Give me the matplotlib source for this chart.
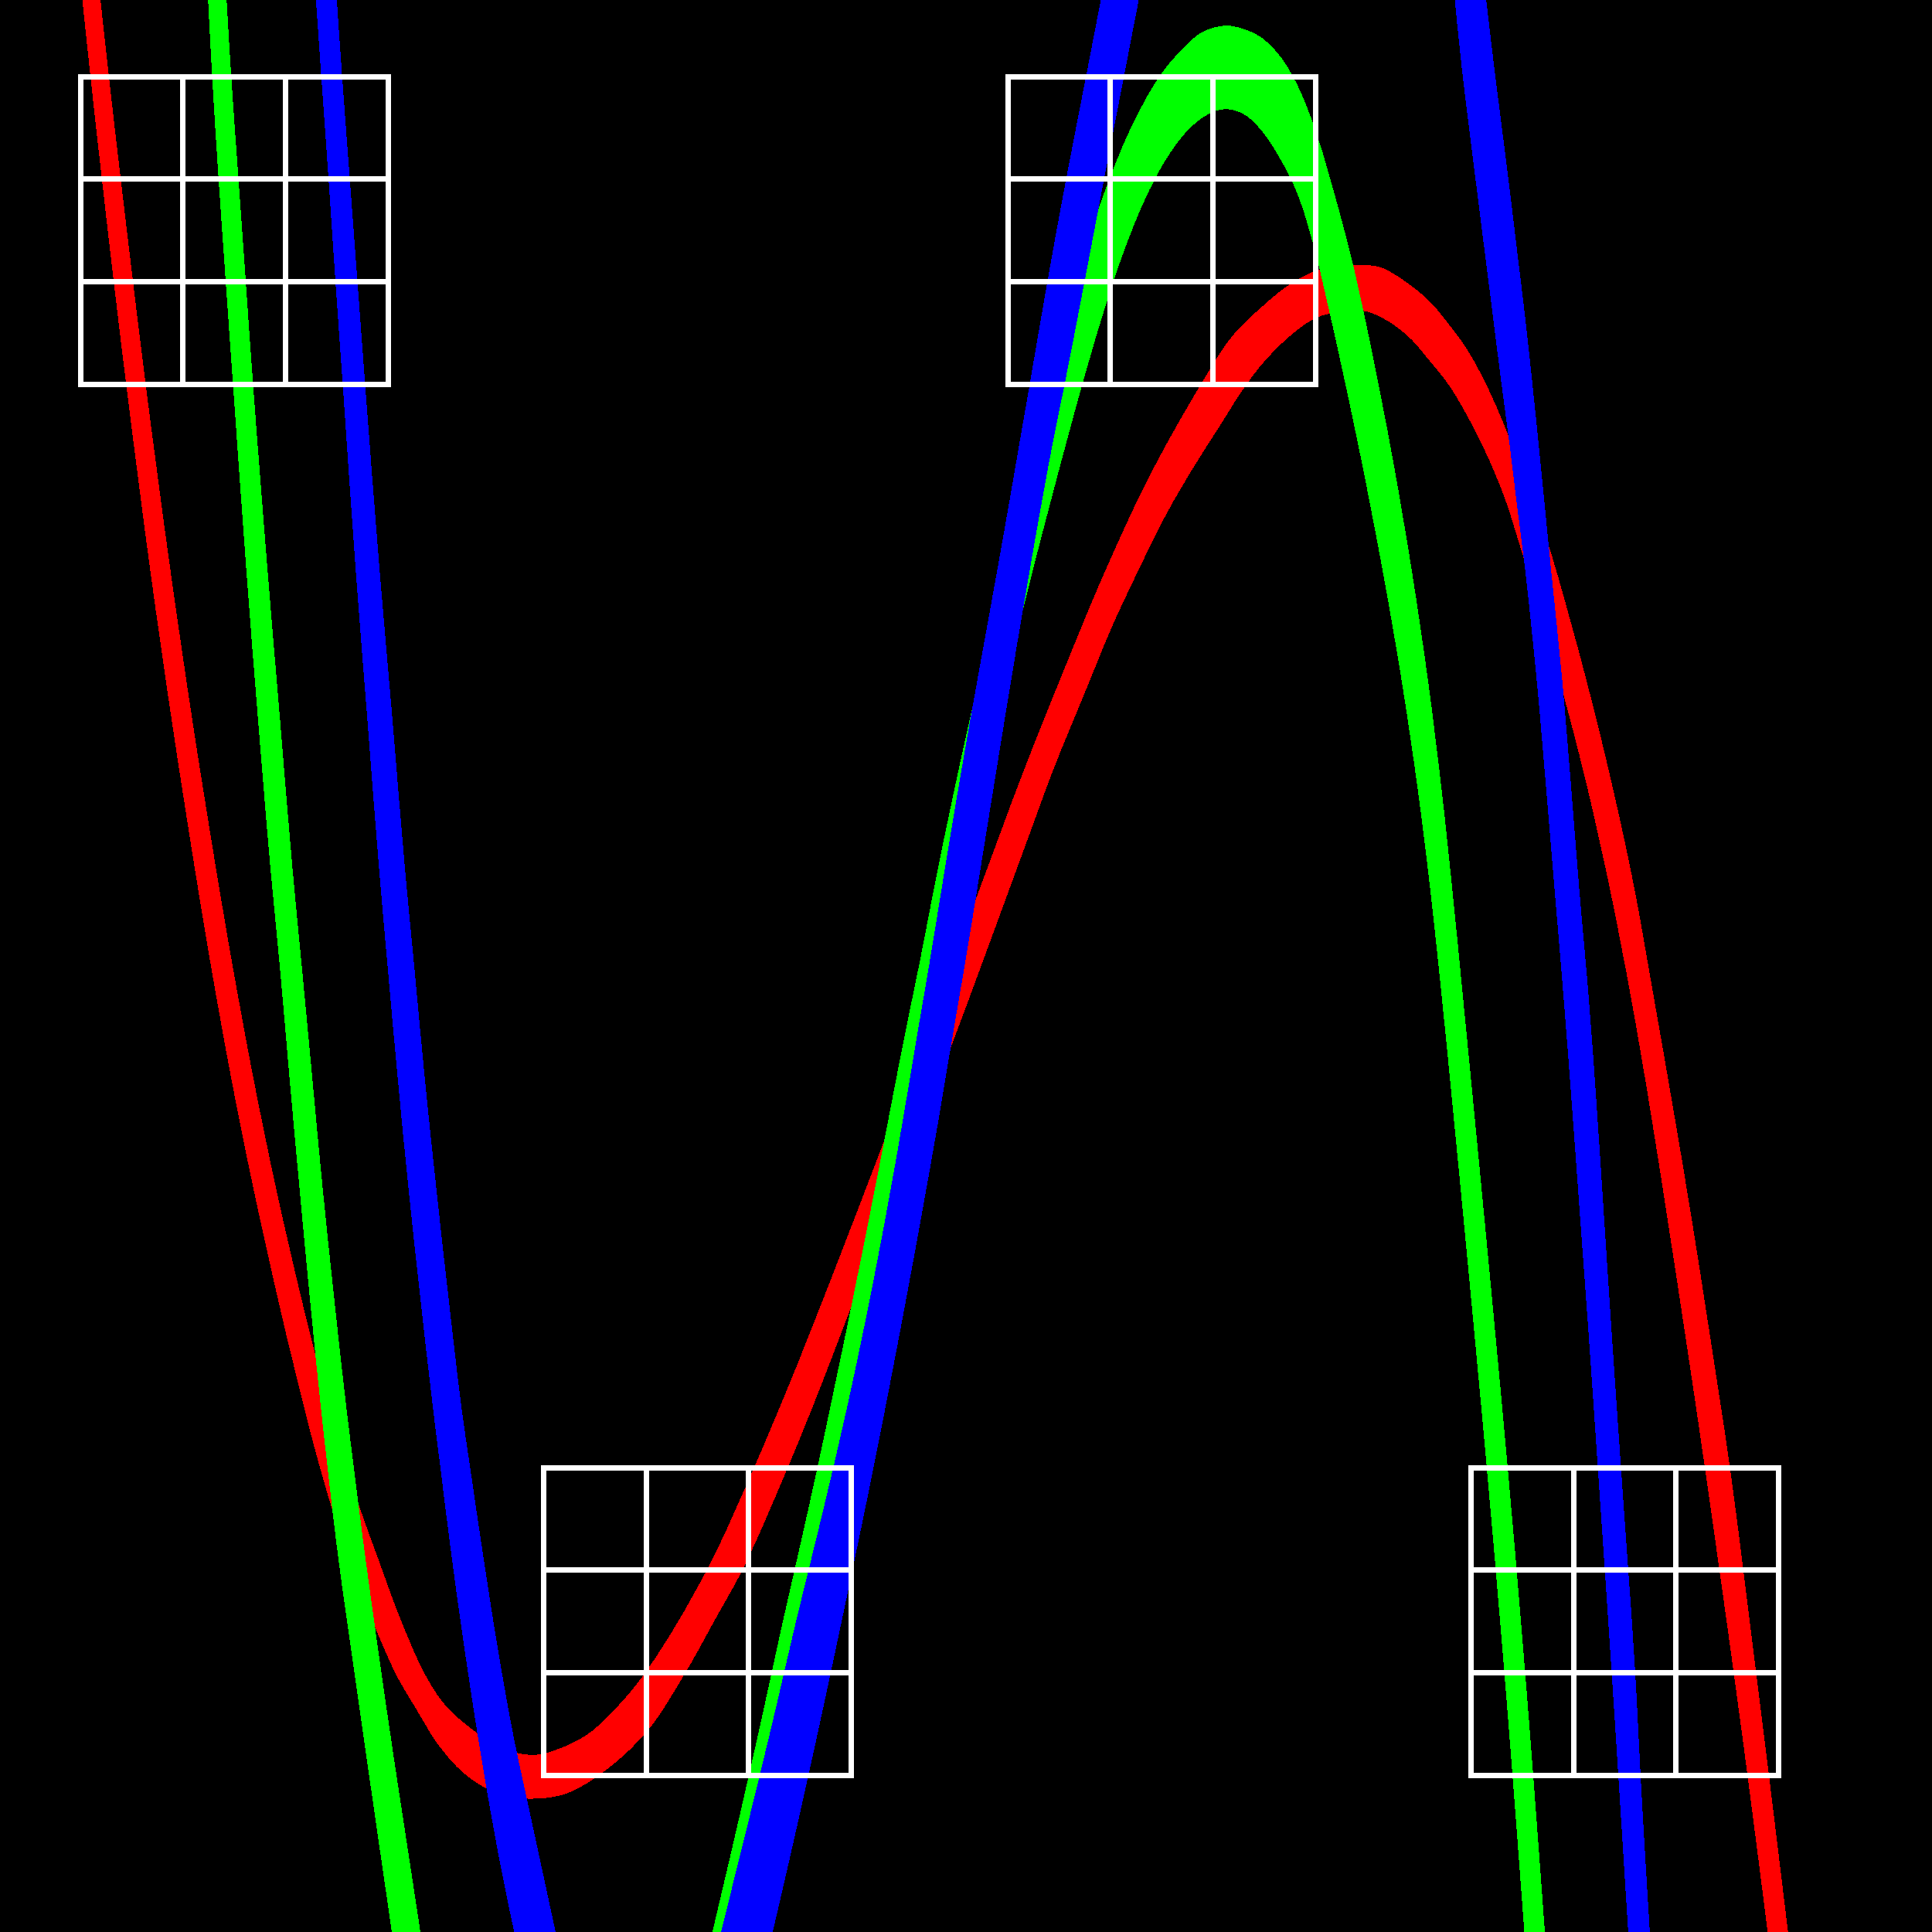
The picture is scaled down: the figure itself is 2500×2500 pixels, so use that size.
import matplotlib
matplotlib.use("Agg")
import numpy as np
import matplotlib.pyplot as plt
from matplotlib.path import Path
from matplotlib.patches import PathPatch

# ---- grid boxes (3x3 cells each) ----
grid_left = [103.5, 1303.5, 703.0, 1903.0]
grid_top = [98.5, 98.5, 1898.5, 1898.5]
grid_cell = 132.67
grid_n = 3

# ---- red band (one branch) ----
red_lower_x = [106.5, 117.2, 132.1, 147.6, 163.8, 195.4, 222.8, 252.6, 273.5, 299.4, 328.3, 360.1, 382.9, 407.2,
               432, 460.2, 489.5, 513.8, 538.4, 569.6, 605.4, 650, 690, 730.4, 775, 836.2, 886.6, 925, 960.3,
               1018.3, 1060, 1089.4, 1160, 1228.3, 1269.5, 1328.3, 1361.8, 1404.8, 1438.3, 1471.8, 1510, 1545,
               1575.3, 1607, 1632.7, 1671, 1701.5, 1728.3, 1764.7, 1793.4, 1824, 1850, 1874.9, 1899.7, 1924.6,
               1946.5, 1968, 2016, 2039.1, 2055.7, 2083.7, 2111.5, 2136.1, 2158.7, 2180.7, 2206.5, 2242.9,
               2266.8, 2289.1]
red_lower_y = [-5, 95.7, 229.6, 363.5, 497.5, 741.3, 932.6, 1124, 1250, 1393.5, 1537, 1680.5, 1776, 1872,
               1958, 2040, 2114, 2168, 2210, 2260, 2298, 2322.5, 2327, 2321, 2296.4, 2240.6, 2163.7, 2095, 2030.9,
               1900, 1797.5, 1721, 1538, 1359.3, 1248.5, 1088.3, 997.4, 892.2, 810.9, 739.2, 662.6, 602.5,
               554.9, 505, 470.7, 432.4, 411.4, 403.7, 401.8, 413.3, 436.2, 466, 497.4, 538.9, 588.6,
               641.3, 708.3, 871, 957, 1024, 1150, 1293.5, 1437, 1580.5, 1724, 1898.5, 2157,
               2335.7, 2510]
red_upper_x = [129, 140, 155.5, 171.5, 188, 220.5, 248.5, 279, 300.5, 327, 356.5, 389.5, 413.5, 440, 467, 488,
               516, 550, 575, 609, 640, 667.9, 690.2, 710, 760, 800, 836, 915.6, 975.9, 1022.4, 1064.5, 1095,
               1123.9, 1200, 1266.1, 1323.5, 1376.1, 1428.8, 1486.1, 1553.1, 1594.4, 1632.7, 1671, 1705.4,
               1730, 1759, 1785.7, 1816.3, 1850, 1874.9, 1896.3, 1922.6, 1953.7, 2004, 2031.7, 2052.3, 2076.2,
               2098.1, 2114.4, 2140, 2165, 2189, 2211.5, 2237.9, 2271, 2293.2, 2314.4]
red_upper_y = [-5, 95.7, 229.6, 363.5, 497.5, 741.3, 932.6, 1124, 1250, 1393.5, 1537, 1680.5, 1776, 1872, 1957,
               2015, 2091, 2168, 2206, 2237, 2257, 2268.5, 2271.2, 2268, 2245, 2208, 2164, 2031, 1900, 1790,
               1684.3, 1605.8, 1530.7, 1331, 1156, 1002, 870, 743.3, 620, 500, 436.2, 398, 367.3, 350,
               344.4, 343.2, 346.3, 363.5, 391, 420.8, 450, 497.8, 569.6, 708.3, 804, 880.5, 976.1,
               1071.8, 1150, 1293.5, 1437, 1580.5, 1724, 1898.5, 2157, 2335.7, 2510]

# ---- green band: left branch (falls out of the bottom) ----
green_left_lower_x = [269.5, 274.8, 283.2, 292.5, 302, 319.5, 334.5, 350.5, 362.5, 375, 388, 401.5, 416, 424.5,
                      436, 465, 509]
green_left_lower_y = [-5, 95.7, 229.6, 363.5, 497.5, 741.3, 932.6, 1124, 1250, 1393.5, 1537, 1680.5, 1824, 1900,
                      1998.5, 2206, 2510]
green_left_upper_x = [292.5, 298.5, 308, 317.5, 327, 346, 362, 378, 390, 403.5, 417, 432, 448, 457.5, 470, 499, 545]
green_left_upper_y = [-5, 95.7, 229.6, 363.5, 497.5, 741.3, 932.6, 1124, 1250, 1393.5, 1537, 1680.5, 1824, 1900,
                      1998.5, 2206, 2510]
# ---- green band: right branch (rises from the bottom, peaks, falls) ----
green_right_lower_x = [949, 977, 1004.5, 1026.5, 1048.5, 1066, 1086, 1108, 1131, 1154, 1173, 1195, 1217, 1241,
                       1260, 1284, 1316, 1340, 1362, 1382, 1401, 1423, 1449, 1479.6, 1510.2, 1540.8, 1567.6,
                       1586.7, 1609.7, 1632.7, 1655.6, 1678.6, 1700, 1720, 1738.5, 1752.7, 1763, 1789.4, 1814.2,
                       1835.4, 1851.1, 1866.5, 1880.7, 1894.6, 1908.2, 1924.3, 1942.8, 1957.2, 1973.7]
green_right_lower_y = [2510, 2378, 2263.5, 2168, 2072, 1996, 1900, 1797.5, 1683, 1568, 1453, 1338, 1248.5, 1122,
                       1026, 911, 814.8, 721.8, 637.6, 562.6, 493.7, 418.3, 338.3, 261, 202.9, 163.9, 145.1,
                       140.8, 147.3, 168.4, 202.8, 248.7, 316.7, 400, 483.3, 550, 600, 737, 880.5,
                       1024, 1150, 1293.5, 1437, 1580.5, 1724, 1898.5, 2112.5, 2291, 2510]
green_right_upper_x = [920, 946.5, 968.5, 990, 1012.5, 1032.5, 1058.1, 1079.8, 1103.7, 1126.8, 1149.2, 1171.5,
                       1189.9, 1214.6, 1244.8, 1259.7, 1290, 1335, 1378, 1405, 1433, 1464.3, 1500, 1525.5, 1556.1,
                       1586.7, 1609.7, 1632.7, 1655.6, 1678.6, 1701.5, 1724.5, 1747, 1766, 1785.5, 1802.8, 1826.1,
                       1847.3, 1865.2, 1878.7, 1892.9, 1906.9, 1920.7, 1934.3, 1950.4, 1968.8, 1983, 1999.3]
green_right_upper_y = [2510, 2397.5, 2301.8, 2206, 2102.8, 2014.8, 1900, 1797.5, 1682.7, 1567.9, 1453.1, 1338.3,
                       1248.5, 1121.8, 978.3, 911.3, 761, 579, 415.7, 322.5, 240, 165, 100.5, 69, 42.1,
                       33.7, 38.3, 49.7, 72.7, 111, 168.4, 244.9, 329, 413, 509, 600, 737,
                       880.5, 1024, 1150, 1293.5, 1437, 1580.5, 1724, 1898.5, 2112.5, 2291, 2510]

# ---- blue band: left branch ----
blue_left_lower_x = [409, 416, 425.5, 434.5, 444, 461, 476, 491, 502, 515, 529, 544.5, 561, 570.5, 585, 601,
                     618.5, 638, 652.5, 668]
blue_left_lower_y = [-5, 95.7, 229.6, 363.5, 497.5, 741.3, 932.6, 1124, 1250, 1393.5, 1537, 1680.5, 1824, 1900,
                     2014.8, 2129.6, 2244.4, 2359.2, 2435.7, 2510]
blue_left_upper_x = [435, 442, 452, 462, 472, 491, 507.5, 523.5, 535.5, 549, 564, 580, 597, 608, 625, 643, 663.5,
                     688, 704.5, 720.5]
blue_left_upper_y = [-5, 95.7, 229.6, 363.5, 497.5, 741.3, 932.6, 1124, 1250, 1393.5, 1537, 1680.5, 1824, 1900,
                     2014.8, 2129.6, 2244.4, 2359.2, 2435.7, 2510]
# ---- blue band: middle branch (rises through the top) ----
blue_mid_lower_x = [997, 1023, 1044.5, 1065.5, 1087.5, 1106, 1129.6, 1149.8, 1171.7, 1192.8, 1213.2, 1232.5,
                    1247.9, 1268.6, 1291.8, 1315.4, 1331.7, 1348.6, 1362, 1376.5, 1403, 1428.5, 1454.5, 1473, 1475]
blue_mid_lower_y = [2510, 2397.5, 2301.8, 2206, 2102.8, 2014.8, 1900, 1797.5, 1682.7, 1567.9, 1453.1, 1338.3,
                    1248.5, 1121.8, 978.3, 834.8, 739.2, 643.5, 571.7, 500, 363.5, 229.6, 95.7, 0, -10]
blue_mid_upper_x = [931, 959, 982.5, 1005.5, 1029.5, 1051, 1078.6, 1101.8, 1125.7, 1147.8, 1168.2, 1187.5,
                    1202.9, 1223.6, 1247.8, 1273.4, 1290.7, 1307.6, 1320, 1332.5, 1356, 1380.5, 1406.5, 1425, 1427]
blue_mid_upper_y = [2510, 2397.5, 2301.8, 2206, 2102.8, 2014.8, 1900, 1797.5, 1682.7, 1567.9, 1453.1, 1338.3,
                    1248.5, 1121.8, 978.3, 834.8, 739.2, 643.5, 571.7, 500, 363.5, 229.6, 95.7, 0, -10]
# ---- blue band: right branch (comes down from the top) ----
blue_right_lower_x = [1882, 1891.5, 1901.5, 1912, 1922.5, 1933, 1943.5, 1954.5, 1963, 1974, 1989, 2001.5, 2012,
                      2024, 2035, 2045.5, 2056, 2068, 2085.5, 2097, 2108]
blue_right_lower_y = [-10, 83, 166, 249, 332, 414.5, 497.4, 580, 650, 737, 880.5, 1024, 1150, 1293.5, 1437,
                      1580.5, 1724, 1898.5, 2157, 2335.7, 2510]
blue_right_upper_x = [1921.5, 1932.5, 1943, 1953.5, 1963.5, 1973.5, 1982.5, 1991, 1998, 2006.5, 2021, 2033, 2043,
                      2055.5, 2066, 2075.5, 2085, 2097, 2115, 2124.5, 2135]
blue_right_upper_y = [-10, 83, 166, 249, 332, 414.5, 497.4, 580, 650, 737, 880.5, 1024, 1150, 1293.5, 1437,
                      1580.5, 1724, 1898.5, 2157, 2335.7, 2510]

bands = [
    (red_lower_x, red_lower_y, red_upper_x, red_upper_y, "#ff0000"),
    (green_left_lower_x, green_left_lower_y, green_left_upper_x, green_left_upper_y, "#00ff00"),
    (green_right_lower_x, green_right_lower_y, green_right_upper_x, green_right_upper_y, "#00ff00"),
    (blue_left_lower_x, blue_left_lower_y, blue_left_upper_x, blue_left_upper_y, "#0000ff"),
    (blue_mid_lower_x, blue_mid_lower_y, blue_mid_upper_x, blue_mid_upper_y, "#0000ff"),
    (blue_right_lower_x, blue_right_lower_y, blue_right_upper_x, blue_right_upper_y, "#0000ff"),
]


def smooth_edge(xs, ys, first_code):
    """Smooth curve through the read points, drawn as cubic Bezier segments."""
    p = np.column_stack([xs, ys]).astype(float)
    n = len(p)
    tang = np.zeros_like(p)
    for i in range(n):
        if i == 0:
            d = p[1] - p[0]
        elif i == n - 1:
            d = p[-1] - p[-2]
        else:
            a = p[i] - p[i - 1]
            b = p[i + 1] - p[i]
            d = a / np.hypot(*a) + b / np.hypot(*b)
        tang[i] = d / np.hypot(*d)
    verts = [p[0]]
    codes = [first_code]
    for i in range(n - 1):
        L = np.hypot(*(p[i + 1] - p[i]))
        verts += [p[i] + tang[i] * L / 3.0, p[i + 1] - tang[i + 1] * L / 3.0, p[i + 1]]
        codes += [Path.CURVE4] * 3
    return verts, codes


fig = plt.figure(figsize=(25, 25), dpi=100)
fig.patch.set_facecolor("black")
ax = fig.add_axes([0, 0, 1, 1])
ax.set_facecolor("black")
ax.set_xlim(0, 2500)
ax.set_ylim(2500, 0)
ax.axis("off")

lw = 7 * 72 / 100.0
for gx, gy in zip(grid_left, grid_top):
    size = grid_cell * grid_n
    for k in range(grid_n + 1):
        ax.plot([gx, gx + size], [gy + k * grid_cell] * 2, color="white", lw=lw,
                solid_capstyle="projecting", antialiased=False)
        ax.plot([gx + k * grid_cell] * 2, [gy, gy + size], color="white", lw=lw,
                solid_capstyle="projecting", antialiased=False)

for lx, ly, ux, uy, col in bands:
    v1, c1 = smooth_edge(lx, ly, Path.MOVETO)
    v2, c2 = smooth_edge(ux[::-1], uy[::-1], Path.LINETO)
    verts = v1 + v2 + [v1[0]]
    codes = c1 + c2 + [Path.CLOSEPOLY]
    patch = PathPatch(Path(np.array(verts), codes), facecolor=col, edgecolor="none",
                      linewidth=0, antialiased=False)
    ax.add_patch(patch)

fig.savefig("out.png", dpi=100, facecolor="black")
